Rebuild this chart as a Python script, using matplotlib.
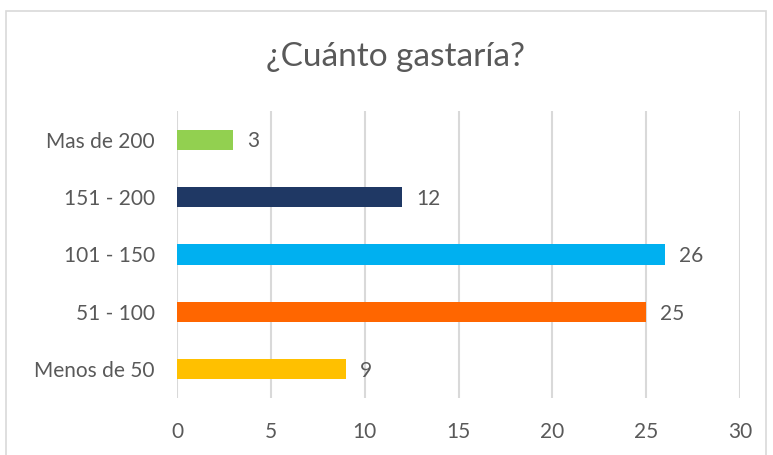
import matplotlib.pyplot as plt
from matplotlib.patches import Rectangle

categories = ["Menos de 50", "51 - 100", "101 - 150", "151 - 200", "Mas de 200"]
values = [9, 25, 26, 12, 3]
colors = ["#FFC000", "#FF6600", "#00B0F0", "#1F3864", "#92D050"]
xticks = [0, 5, 10, 15, 20, 25, 30]

plt.rcParams["font.family"] = ["Lato", "DejaVu Sans"]
text_color = "#595959"

fig = plt.figure(figsize=(7.73, 4.55), dpi=100)
ax = fig.add_axes([177 / 773, 1 - 398 / 455, 563 / 773, 287 / 455])

# chart frame
fig.patches.append(Rectangle((6 / 773, -0.05), 760 / 773, 1.05 - 11 / 455,
                             transform=fig.transFigure, fill=False,
                             edgecolor="#d9d9d9", linewidth=1.2))

ypos = range(len(categories))
ax.barh(ypos, values, height=0.35, color=colors, zorder=3)
for y, v in zip(ypos, values):
    ax.text(v + 0.75, y - 0.03, str(v), va="center", ha="left", fontsize=15, color=text_color)

ax.set_xlim(0, 30)
ax.set_ylim(-0.5, len(categories) - 0.5)
ax.set_xticks(xticks)
ax.set_yticks(list(ypos))
ax.set_yticklabels(categories)
ax.tick_params(axis="both", length=0, labelsize=15, labelcolor=text_color)
ax.tick_params(axis="x", pad=17)
ax.tick_params(axis="y", pad=16)
ax.grid(axis="x", color="#d9d9d9", linewidth=1.5, zorder=0)
for s in ax.spines.values():
    s.set_visible(False)

fig.text(395 / 773, 1 - 57 / 455, "¿Cuánto gastaría?", ha="center", va="center",
         fontsize=24, color=text_color)

fig.savefig("out.png", dpi=100)
